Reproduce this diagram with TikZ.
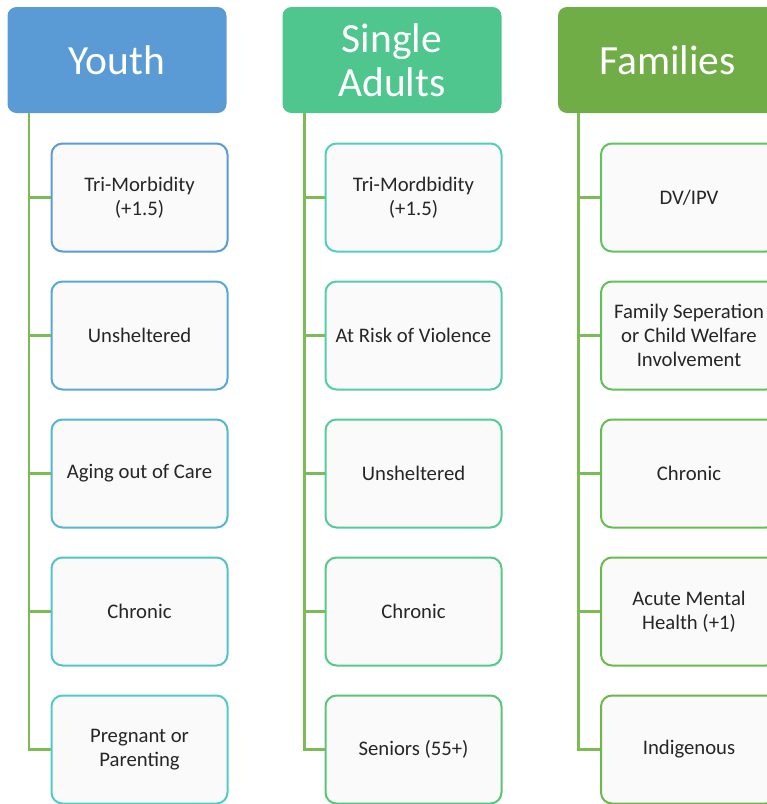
\documentclass[tikz,border=0pt]{standalone}
\usepackage{fontspec}
\setmainfont{Carlito}
\begin{document}
\begin{tikzpicture}[x=1pt,y=-1pt,
  head/.style={rounded corners=9pt, minimum width=219pt, minimum height=106pt, inner sep=0pt, text=white, font=\fontsize{41.5}{43.5}\selectfont, align=center},
  kid/.style={draw=#1, line width=2pt, fill=black!2, rounded corners=11pt, minimum width=176pt, minimum height=108pt, inner sep=0pt, text=black!85, font=\fontsize{20.7}{24}\selectfont, align=center},
  link/.style={draw=linkgreen, line width=2.6pt}]
\definecolor{hblue}{HTML}{5B9BD5}
\definecolor{hteal}{HTML}{4EC68E}
\definecolor{hgreen}{HTML}{70AD47}
\definecolor{linkgreen}{HTML}{7DBB55}
\definecolor{y1}{HTML}{5B9BD5}
\definecolor{y2}{HTML}{58A8D6}
\definecolor{y3}{HTML}{55B6D2}
\definecolor{y4}{HTML}{52C3CD}
\definecolor{y5}{HTML}{50CBC7}
\definecolor{s1}{HTML}{50D0BA}
\definecolor{s2}{HTML}{50CEAA}
\definecolor{s3}{HTML}{51CC9A}
\definecolor{s4}{HTML}{54CA88}
\definecolor{s5}{HTML}{58C678}
\definecolor{f1}{HTML}{5DC45F}
\definecolor{f2}{HTML}{61C157}
\definecolor{f3}{HTML}{66BE50}
\definecolor{f4}{HTML}{6ABA4C}
\definecolor{f5}{HTML}{6EB54A}
\useasboundingbox (0,0) rectangle (767,804);
\clip (0,0) rectangle (767,804);
% headers
\node[head, fill=hblue] (hy) at (117,60) {Youth};
\node[head, fill=hteal] (hs) at (392,60) {Single\\Adults};
\node[head, fill=hgreen] (hf) at (667.5,60) {Families};
% Youth children
\node[kid=y1] (y1) at (139.5,197.5) {Tri-Morbidity\\(+1.5)};
\node[kid=y2] (y2) at (139.5,335.5) {Unsheltered};
\node[kid=y3] (y3) at (139.5,473.5) {Aging out of Care};
\node[kid=y4] (y4) at (139.5,611.5) {Chronic};
\node[kid=y5] (y5) at (139.5,749.5) {Pregnant or\\Parenting};
% Single adults children
\node[kid=s1] (s1) at (413.5,197.5) {Tri-Mordbidity\\(+1.5)};
\node[kid=s2] (s2) at (413.5,335.5) {At Risk of Violence};
\node[kid=s3] (s3) at (413.5,473.5) {Unsheltered};
\node[kid=s4] (s4) at (413.5,611.5) {Chronic};
\node[kid=s5] (s5) at (413.5,749.5) {Seniors (55+)};
% Families children
\node[kid=f1] (f1) at (689,197.5) {DV/IPV};
\node[kid=f2] (f2) at (689,335.5) {Family Seperation\\or Child Welfare\\Involvement};
\node[kid=f3] (f3) at (689,473.5) {Chronic};
\node[kid=f4] (f4) at (689,611.5) {Acute Mental\\Health (+1)};
\node[kid=f5] (f5) at (689,749.5) {Indigenous};
% connectors
\foreach \h/\c/\xx in {hy/y/29, hs/s/304.5, hf/f/578.5}{
  \coordinate (\h top) at (\xx,113);
  \draw[link] (\h top) |- (\c5.west);
  \foreach \i in {1,2,3,4}{
    \draw[link] (\c\i.west) -- (\c\i.west -| \h top);
  }
}
\end{tikzpicture}
\end{document}
